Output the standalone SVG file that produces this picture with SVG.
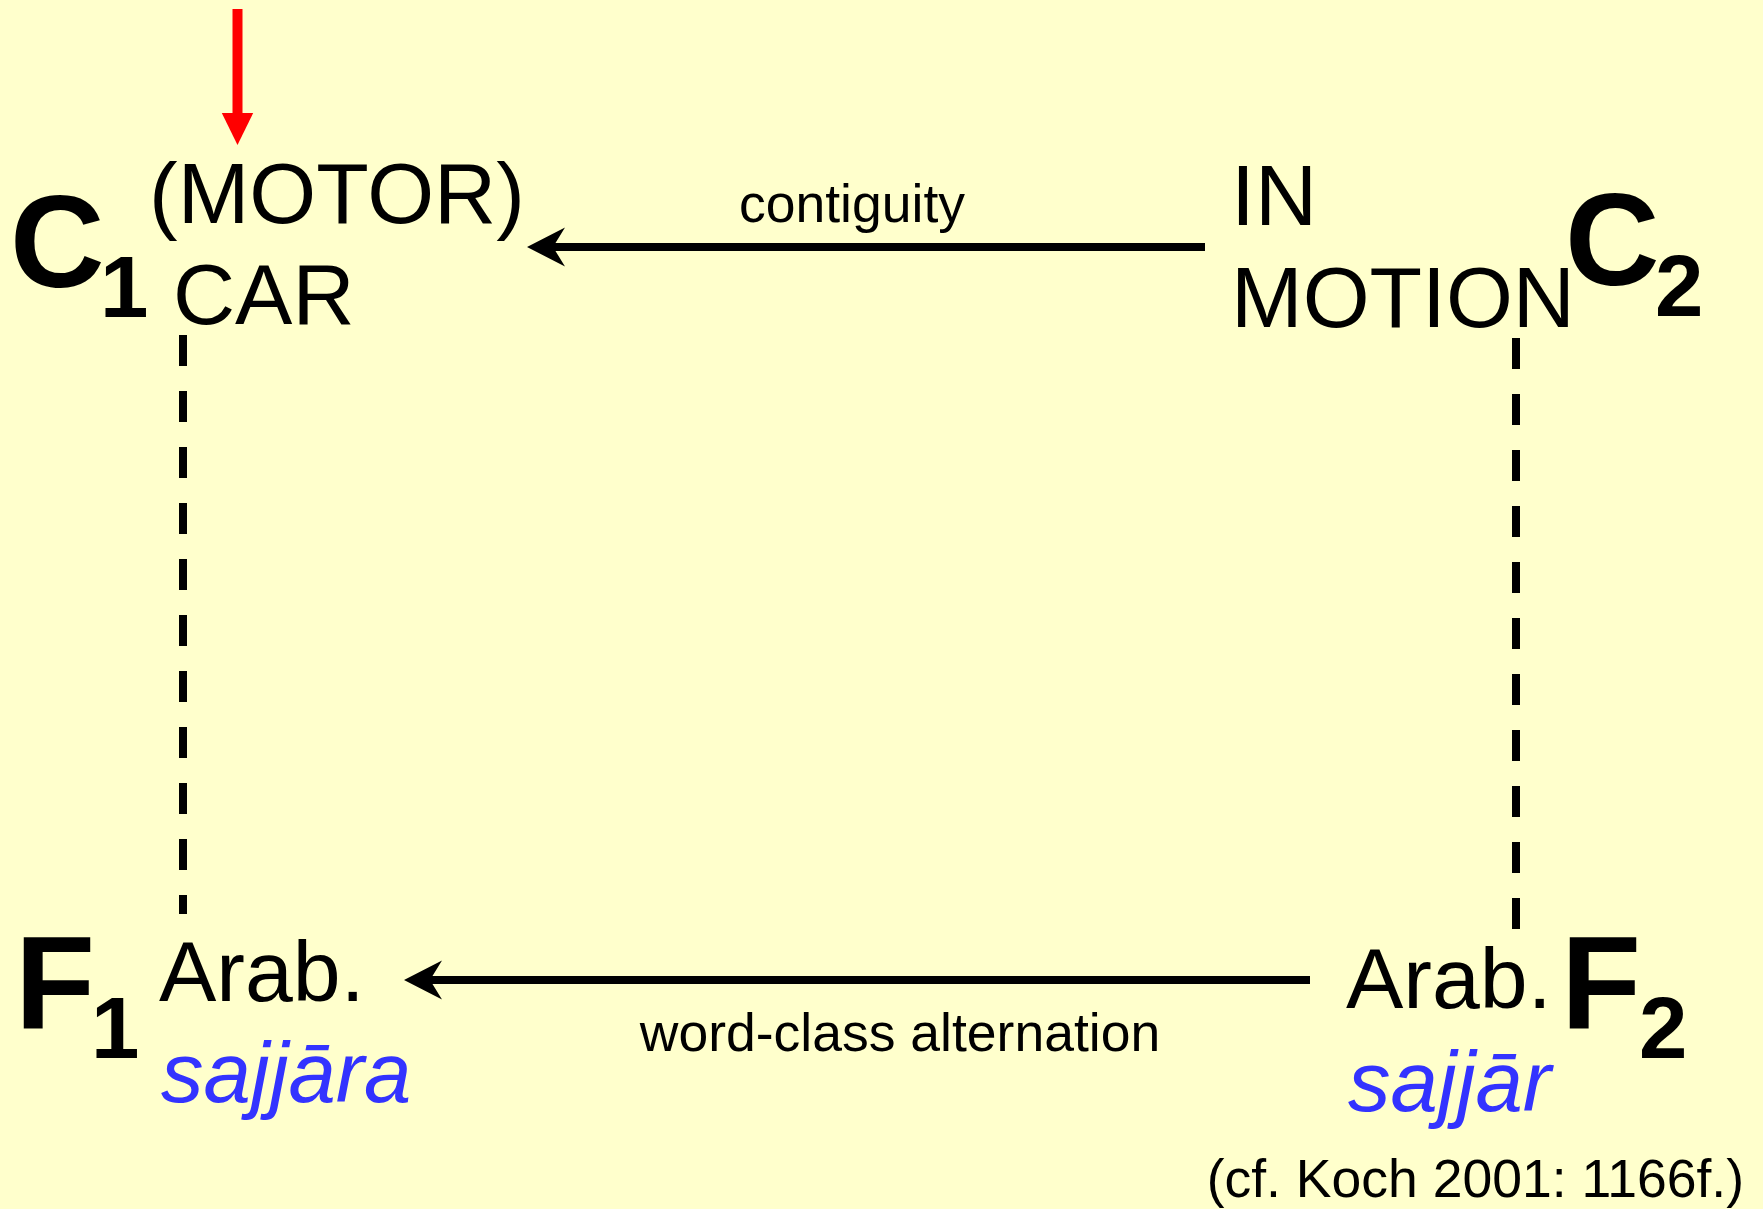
<svg xmlns="http://www.w3.org/2000/svg" width="1763" height="1209" viewBox="0 0 1763 1209">
  <style>
    text { font-family: "Liberation Sans", Arial, sans-serif; fill: #000; }
    .sym { font-weight: bold; font-size: 131px; }
    .sub { font-weight: bold; font-size: 87px; }
    .word { font-size: 86px; }
    .form { font-size: 85px; font-style: italic; fill: #3333FF; }
    .label { font-size: 53.5px; }
    .rel { stroke: #000; stroke-width: 8; fill: none; }
    .link { stroke: #000; stroke-width: 8; stroke-dasharray: 31 25; fill: none; }
  </style>
  <defs>
    <!-- barbed head; the line ends at the notch (0,0) -->
    <marker id="barb" markerUnits="userSpaceOnUse" orient="auto" refX="0" refY="0" markerWidth="80" markerHeight="80" overflow="visible">
      <path d="M26,0 L-12,-19.5 L0,0 L-12,19.5 Z" fill="#000"/>
    </marker>
    <marker id="pointer" markerUnits="userSpaceOnUse" orient="auto" refX="0" refY="0" markerWidth="80" markerHeight="80" overflow="visible">
      <path d="M0,-15.7 L32,0 L0,15.7 Z" fill="#FF0000"/>
    </marker>
  </defs>

  <rect x="0" y="0" width="1763" height="1209" fill="#FFFFCC"/>

  <!-- concept C1 -->
  <g id="c1">
    <text class="sym" x="10" y="287">C</text>
    <text class="sub" x="100" y="317">1</text>
    <text class="word" x="149" y="223">(MOTOR)</text>
    <text class="word" x="173" y="324">CAR</text>
  </g>

  <!-- concept C2 -->
  <g id="c2">
    <text class="word" x="1231" y="225">IN</text>
    <text class="word" x="1231" y="327">MOTION</text>
    <text class="sym" x="1565" y="285">C</text>
    <text class="sub" x="1655" y="316">2</text>
  </g>

  <!-- form F1 -->
  <g id="f1">
    <text class="sym" x="15" y="1028">F</text>
    <text class="sub" x="91" y="1058">1</text>
    <text class="word" x="159" y="1001">Arab.</text>
    <text class="form" x="161" y="1102">sajjāra</text>
  </g>

  <!-- form F2 -->
  <g id="f2">
    <text class="word" x="1346" y="1008">Arab.</text>
    <text class="sym" x="1561" y="1028">F</text>
    <text class="sub" x="1639" y="1058">2</text>
    <text class="form" x="1348" y="1111">sajjār</text>
  </g>

  <!-- source note -->
  <g id="source">
    <text class="label" x="1744" y="1197" text-anchor="end">(cf. Koch 2001: 1166f.)</text>
  </g>

  <!-- relations between concepts and forms -->
  <g id="connectors">
    <line x1="237.5" y1="9" x2="237.5" y2="113" stroke="#FF0000" stroke-width="10" marker-end="url(#pointer)"/>
    <line class="rel" x1="1205" y1="247" x2="553" y2="247" marker-end="url(#barb)"/>
    <text class="label" x="852" y="222" text-anchor="middle">contiguity</text>
    <line class="rel" x1="1310" y1="980" x2="430" y2="980" marker-end="url(#barb)"/>
    <text class="label" x="900" y="1051" text-anchor="middle">word-class alternation</text>
    <line class="link" x1="183" y1="335" x2="183" y2="914"/>
    <line class="link" x1="1516" y1="338" x2="1516" y2="929"/>
  </g>
</svg>
